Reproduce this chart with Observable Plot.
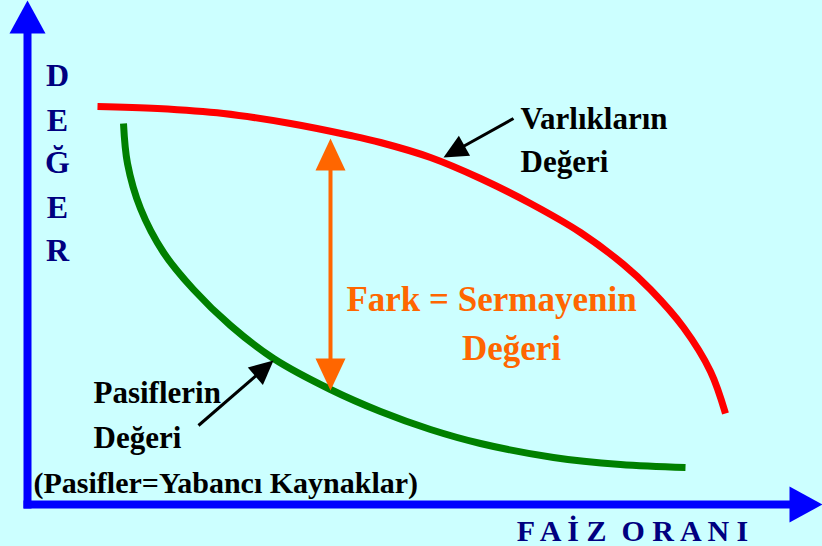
<!DOCTYPE html>
<html>
<head>
<meta charset="utf-8">
<script src="https://cdn.jsdelivr.net/npm/d3@7"></script>
<script src="https://cdn.jsdelivr.net/npm/@observablehq/plot@0.6"></script>
<style>
  html, body { margin: 0; padding: 0; background: #ccffff; }
  svg { display: block; }
</style>
</head>
<body>
<div id="chart"></div>
<script>
// ---- Data (chart units: x = faiz oranı, y = değer; origin at the axes' corner) ----
const assetRate  = [70, 130, 196, 263, 323, 353, 403, 453, 503, 553, 596, 623, 656, 683, 698];
const assetValue = [398, 396, 391, 381, 369, 362, 347, 326, 301, 272, 240, 215, 177, 133, 91];

const liabRate  = [96, 100, 113, 136, 166, 203, 246, 303, 353, 403, 453, 526, 593, 658];
const liabValue = [381, 341, 296, 252, 215, 179, 146, 115, 93, 75, 61, 47, 40, 37];

// equity gap arrow (between the two curves)
const gapRate = [303];
const gapTop = [366];
const gapBottom = [114];

// y axis title letters
const yTitleLetters = ["D", "E", "Ğ", "E", "R"];
const yTitleX = [30, 30, 30, 30, 30];
const yTitleY = [429, 384, 342, 297, 254];

// annotation labels
const labelText = ["Varlıkların", "Değeri", "Pasiflerin", "Değeri"];
const labelX = [493, 493, 66, 66];
const labelY = [385, 342, 111, 66];

const noteText = ["(Pasifler=Yabancı Kaynaklar)"];
const noteX = [6];
const noteY = [21];

const gapText = ["Fark = Sermayenin", "Değeri"];
const gapTextX = [464, 484];
const gapTextY = [205, 156];

const xTitle = ["F A İ Z  O R A N I"];
const xTitleX = [605];
const xTitleY = [-27];

// pointer arrows: start -> tip
const pointerX1 = [486, 171];
const pointerY1 = [386, 79];
const pointerX2 = [416, 246];
const pointerY2 = [347, 144];

// axes: start -> tip
const axisX1 = [0, -4];
const axisY1 = [-4, 0];
const axisX2 = [0, 795];
const axisY2 = [504, 0];

// ---- helpers ----
const head = (len, wid) => ({
  draw(ctx) {
    ctx.moveTo(0, 0);
    ctx.lineTo(wid / 2, len);
    ctx.lineTo(-wid / 2, len);
    ctx.closePath();
  }
});
const angle = (x1, y1, x2, y2) => Math.atan2(x2 - x1, y2 - y1) * 180 / Math.PI;
function shorten(x1, y1, x2, y2, len) {
  const dx = x2 - x1, dy = y2 - y1, d = Math.hypot(dx, dy);
  return [x2 - dx / d * len, y2 - dy / d * len];
}

const assets = assetRate.map((x, i) => ({x, y: assetValue[i]}));
const liabs = liabRate.map((x, i) => ({x, y: liabValue[i]}));

const axisHeadLen = [33, 31];
const axes = axisX1.map((x1, i) => {
  const [bx, by] = shorten(x1, axisY1[i], axisX2[i], axisY2[i], axisHeadLen[i] - 1);
  return {x1, y1: axisY1[i], bx, by, x2: axisX2[i], y2: axisY2[i],
          a: angle(x1, axisY1[i], axisX2[i], axisY2[i])};
});

const pointers = pointerX1.map((x1, i) => {
  const [bx, by] = shorten(x1, pointerY1[i], pointerX2[i], pointerY2[i], 20);
  return {x1, y1: pointerY1[i], bx, by, x2: pointerX2[i], y2: pointerY2[i],
          a: angle(x1, pointerY1[i], pointerX2[i], pointerY2[i])};
});

const gaps = gapRate.map((x, i) => ({x, top: gapTop[i], bottom: gapBottom[i]}));

const font = "Liberation Serif";

const plot = Plot.plot({
  width: 822,
  height: 546,
  margin: 0,
  x: {domain: [-27, 795], range: [0, 822], axis: null},
  y: {domain: [-42, 504], range: [546, 0], axis: null},
  style: {background: "#ccffff"},
  marks: [
    // axes
    Plot.link(axes, {x1: "x1", y1: "y1", x2: "bx", y2: "by", stroke: "#0000ff", strokeWidth: 8, strokeLinecap: "butt"}),
    Plot.dot(axes, {x: "x2", y: "y2", rotate: "a", symbol: head(33, 36), fill: "#0000ff", stroke: "none"}),

    // curves
    Plot.line(assets, {x: "x", y: "y", curve: "catmull-rom", stroke: "#ff0000", strokeWidth: 7, strokeLinecap: "butt"}),
    Plot.line(liabs, {x: "x", y: "y", curve: "catmull-rom", stroke: "#008000", strokeWidth: 7, strokeLinecap: "butt"}),

    // equity double arrow
    Plot.link(gaps, {x1: "x", y1: d => d.top - 30, x2: "x", y2: d => d.bottom + 30, stroke: "#ff6600", strokeWidth: 4}),
    Plot.dot(gaps, {x: "x", y: "top", rotate: 0, symbol: head(32, 30), fill: "#ff6600", stroke: "none"}),
    Plot.dot(gaps, {x: "x", y: "bottom", rotate: 180, symbol: head(32, 30), fill: "#ff6600", stroke: "none"}),

    // pointer arrows
    Plot.link(pointers, {x1: "x1", y1: "y1", x2: "bx", y2: "by", stroke: "#000000", strokeWidth: 3}),
    Plot.dot(pointers, {x: "x2", y: "y2", rotate: "a", symbol: head(24, 23), fill: "#000000", stroke: "none"}),

    // texts
    Plot.text(yTitleLetters, {x: (d, i) => yTitleX[i], y: (d, i) => yTitleY[i], text: d => d,
      fontFamily: font, fontSize: 32, fontWeight: "bold", fill: "#000080", textAnchor: "middle", lineAnchor: "middle"}),
    Plot.text(labelText, {x: (d, i) => labelX[i], y: (d, i) => labelY[i], text: d => d,
      fontFamily: font, fontSize: 31, fontWeight: "bold", fill: "#000000", textAnchor: "start", lineAnchor: "middle"}),
    Plot.text(noteText, {x: (d, i) => noteX[i], y: (d, i) => noteY[i], text: d => d,
      fontFamily: font, fontSize: 30, fontWeight: "bold", fill: "#000000", textAnchor: "start", lineAnchor: "middle"}),
    Plot.text(gapText, {x: (d, i) => gapTextX[i], y: (d, i) => gapTextY[i], text: d => d,
      fontFamily: font, fontSize: 35, fontWeight: "bold", fill: "#ff6600", textAnchor: "middle", lineAnchor: "middle"}),
    Plot.text(xTitle, {x: (d, i) => xTitleX[i], y: (d, i) => xTitleY[i], text: d => d,
      fontFamily: font, fontSize: 30, fontWeight: "bold", fill: "#000080", textAnchor: "middle", lineAnchor: "middle"})
  ]
});
d3.select(plot).selectAll("text").style("font-family", "'Liberation Serif', 'Times New Roman', serif");
document.getElementById("chart").appendChild(plot);
</script>
</body>
</html>
